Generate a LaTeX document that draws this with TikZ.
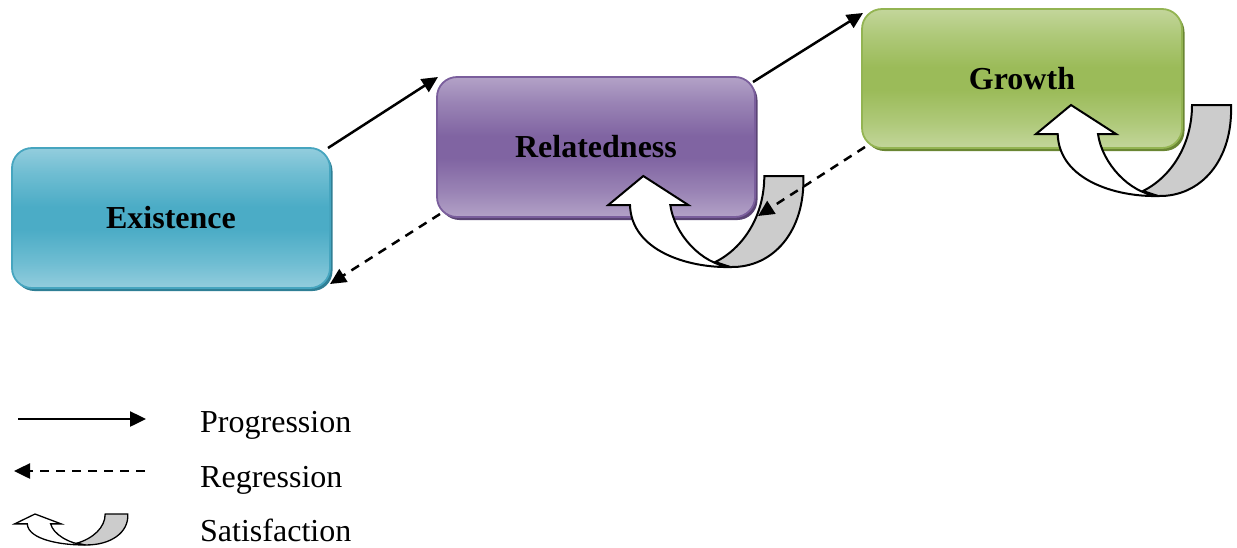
\documentclass[tikz,border=0pt]{standalone}
\usepackage{fontspec}
\setmainfont{Liberation Serif}
\usetikzlibrary{arrows.meta,shadows,calc}

% stage colours: light rim, dark core, shadow
\definecolor{exLight}{HTML}{93CDDD}
\definecolor{exDark}{HTML}{4BACC6}
\definecolor{exMid}{HTML}{6FBDD2}
\definecolor{exEdge}{HTML}{46A5BF}
\definecolor{exShadow}{HTML}{2F7F95}
\definecolor{reLight}{HTML}{B3A2C7}
\definecolor{reDark}{HTML}{8064A2}
\definecolor{reMid}{HTML}{9A84B5}
\definecolor{reEdge}{HTML}{7A5E9C}
\definecolor{reShadow}{HTML}{5A4474}
\definecolor{grLight}{HTML}{C3D69B}
\definecolor{grDark}{HTML}{9BBB59}
\definecolor{grMid}{HTML}{AFC97A}
\definecolor{grEdge}{HTML}{93B452}
\definecolor{grShadow}{HTML}{6A8633}
\definecolor{backGrey}{HTML}{CCCCCC}

% glossy vertical shadings (light - dark band - light)
\pgfdeclareverticalshading{exShade}{100bp}{color(0bp)=(exLight); color(25bp)=(exLight); color(34bp)=(exMid); color(46bp)=(exDark); color(54bp)=(exDark); color(66bp)=(exMid); color(75bp)=(exLight); color(100bp)=(exLight)}
\pgfdeclareverticalshading{reShade}{100bp}{color(0bp)=(reLight); color(25bp)=(reLight); color(34bp)=(reMid); color(46bp)=(reDark); color(54bp)=(reDark); color(66bp)=(reMid); color(75bp)=(reLight); color(100bp)=(reLight)}
\pgfdeclareverticalshading{grShade}{100bp}{color(0bp)=(grLight); color(25bp)=(grLight); color(34bp)=(grMid); color(46bp)=(grDark); color(54bp)=(grDark); color(66bp)=(grMid); color(75bp)=(grLight); color(100bp)=(grLight)}

\tikzset{
  stage/.style={rectangle, rounded corners=20pt, minimum width=318pt,
    minimum height=140pt, inner sep=0pt, outer sep=0pt, line width=1.8pt,
    font=\bfseries\fontsize{32}{38}\selectfont},
  progress/.style={line width=2.5pt, -{Triangle[length=16pt,width=15pt]}},
  regress/.style={progress, dash pattern=on 9pt off 7pt},
  ribbonline/.style={line width=2pt, line join=miter},
  legendtext/.style={anchor=base west, inner sep=0pt,
    font=\fontsize{32}{38}\selectfont},
  % U-turn ribbon: grey back face, white front face ending in an arrowhead
  satisfy/.pic={
    \filldraw[ribbonline, fill=backGrey] (121,0) -- (160,0)
      .. controls (162,55) and (130,92) .. (87,91) -- (72,86)
      .. controls (100,72) and (121,40) .. (121,0) -- cycle;
    \filldraw[ribbonline, fill=white] (0,0) -- (45,29) -- (27,29)
      .. controls (31,58) and (58,88) .. (87,91)
      .. controls (45,92) and (-12,75) .. (-13.3,29) -- (-35,29) -- cycle;
  }
}

\begin{document}
\begin{tikzpicture}[x=1pt, y=-1pt]
\useasboundingbox (0,0) rectangle (1237,547);

% stages
\node[stage, draw=exEdge, shading=exShade,
      drop shadow={shadow xshift=2.5pt, shadow yshift=-3pt, fill=exShadow, opacity=1}]
  (E) at (171,218) {Existence};
\node[stage, draw=reEdge, shading=reShade,
      drop shadow={shadow xshift=2.5pt, shadow yshift=-3pt, fill=reShadow, opacity=1}]
  (R) at (596,147) {Relatedness};
\node[stage, draw=grEdge, shading=grShade, minimum width=320pt, minimum height=139pt,
      drop shadow={shadow xshift=2.5pt, shadow yshift=-3pt, fill=grShadow, opacity=1}]
  (G) at (1022,78.5) {Growth};

% satisfaction loops
\pic at (643.3,176) {satisfy};
\pic at (1071,105) {satisfy};

% progression
\draw[progress] ($(E.north east)+(-2,0)$) -- ($(R.north west)+(1,0)$);
\draw[progress] ($(R.north east)+(-2,5)$) -- ($(G.north west)+(1,4)$);

% regression
\draw[regress] ($(G.south west)+(3,-1)$) -- ($(R.south east)+(3,-1)$);
\draw[regress] ($(R.south west)+(3,-3)$) -- ($(E.south east)+(0,-4)$);

% legend
\coordinate (p0) at (18,419);
\coordinate (p1) at (146,419);
\draw[progress] (p0) -- (p1);
\coordinate (r0) at (145,471);
\coordinate (r1) at (14,471);
\draw[regress] (r0) -- (r1);
\begin{scope}[ribbonline/.append style={line width=1.3pt}]
  \pic[xscale=0.58, yscale=0.34] at (35,514) {satisfy};
\end{scope}
\node[legendtext] (lp) at (200,432) {Progression};
\node[legendtext] (lr) at (200,487) {Regression};
\node[legendtext] (ls) at (200,541) {Satisfaction};
\end{tikzpicture}
\end{document}
